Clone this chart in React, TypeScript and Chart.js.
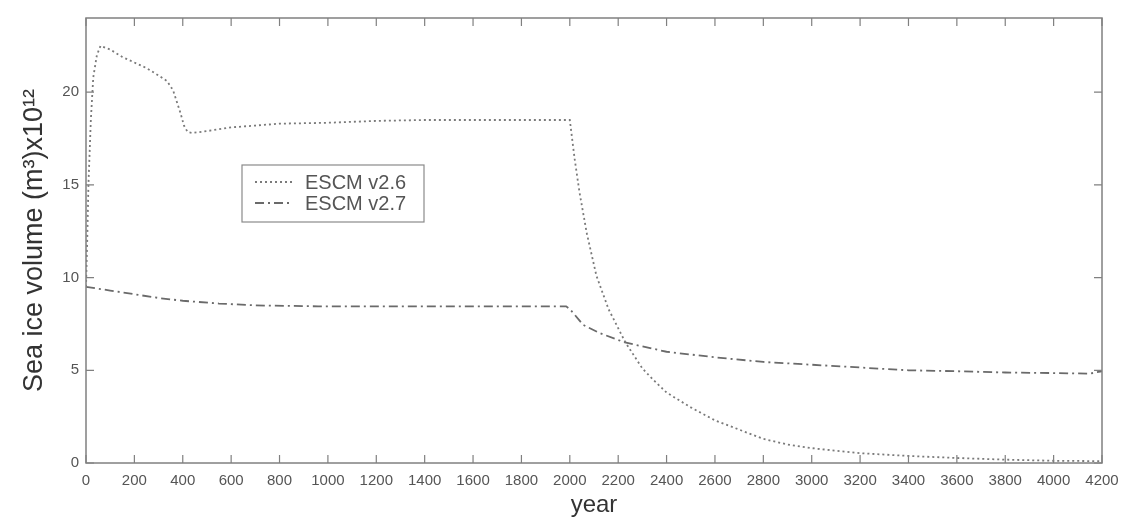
import React, { useEffect, useRef } from "react";
import { Chart, registerables } from "chart.js";

Chart.register(...registerables);

const v26Years = [0, 5, 10, 20, 30, 45, 60, 100, 150, 200, 250, 300, 335, 360, 375, 390, 405, 420, 440, 500, 600, 700, 800, 1000, 1200, 1400, 1600, 1800, 2000, 2020, 2040, 2070, 2110, 2160, 2230, 2300, 2344, 2400, 2500, 2600, 2700, 2800, 2900, 3000, 3200, 3400, 3600, 3800, 4000, 4200];
const v26Values = [9.5, 12, 15, 18.5, 20.8, 22.0, 22.5, 22.3, 21.9, 21.6, 21.3, 20.9, 20.6, 20.1, 19.5, 18.9, 18.2, 17.85, 17.8, 17.9, 18.1, 18.2, 18.3, 18.35, 18.45, 18.5, 18.5, 18.5, 18.5, 16.4, 14.6, 12.4, 10.1, 8.3, 6.5, 5.1, 4.5, 3.8, 3.0, 2.3, 1.8, 1.3, 1.0, 0.8, 0.53, 0.38, 0.27, 0.18, 0.12, 0.1];

const v27Years = [0, 100, 200, 300, 400, 550, 700, 960, 1200, 1400, 1600, 1800, 1985, 2000, 2020, 2055, 2125, 2228, 2400, 2600, 2800, 3000, 3200, 3400, 3600, 3800, 4000, 4150, 4200];
const v27Values = [9.5, 9.3, 9.1, 8.9, 8.75, 8.6, 8.5, 8.45, 8.45, 8.45, 8.45, 8.45, 8.45, 8.3, 8.0, 7.45, 7.0, 6.5, 6.0, 5.7, 5.45, 5.3, 5.15, 5.0, 4.95, 4.88, 4.85, 4.82, 4.95];

const seriesNames = ["ESCM v2.6", "ESCM v2.7"];
const xTickStep = 200;
const yTickStep = 5;
const xMax = 4200;
const yMax = 24;

const dotDash = [2, 3];
const dashDotDash = [9, 4, 2, 4];
const lineColor26 = "#7a7a7a";
const lineColor27 = "#6a6a6a";
const fontFamily = "'Liberation Sans', Arial, sans-serif";

const boxPlugin = {
  id: "matlabBox",
  afterDraw(chart: any) {
    const { ctx, chartArea, scales } = chart;
    const { left, right, top, bottom } = chartArea;
    ctx.save();
    ctx.strokeStyle = "#808080";
    ctx.lineWidth = 1.5;
    ctx.setLineDash([]);
    ctx.strokeRect(left, top, right - left, bottom - top);
    const tl = 8;
    ctx.lineWidth = 1.2;
    ctx.beginPath();
    scales.x.ticks.forEach((t: any) => {
      const px = scales.x.getPixelForValue(t.value);
      ctx.moveTo(px, bottom);
      ctx.lineTo(px, bottom - tl);
      ctx.moveTo(px, top);
      ctx.lineTo(px, top + tl);
    });
    scales.y.ticks.forEach((t: any) => {
      const py = scales.y.getPixelForValue(t.value);
      ctx.moveTo(left, py);
      ctx.lineTo(left + tl, py);
      ctx.moveTo(right, py);
      ctx.lineTo(right - tl, py);
    });
    ctx.stroke();

    // legend
    const lx = 242, ly = 165, lw = 182, lh = 57;
    ctx.fillStyle = "#ffffff";
    ctx.fillRect(lx, ly, lw, lh);
    ctx.strokeStyle = "#8a8a8a";
    ctx.lineWidth = 1.2;
    ctx.strokeRect(lx, ly, lw, lh);
    const rows = [
      { name: seriesNames[0], dash: dotDash, color: lineColor26, y: ly + 17 },
      { name: seriesNames[1], dash: dashDotDash, color: lineColor27, y: ly + 38 },
    ];
    ctx.font = `20px ${fontFamily}`;
    ctx.textBaseline = "middle";
    ctx.textAlign = "left";
    rows.forEach((r) => {
      ctx.strokeStyle = r.color;
      ctx.lineWidth = 1.8;
      ctx.setLineDash(r.dash);
      ctx.beginPath();
      ctx.moveTo(lx + 13, r.y);
      ctx.lineTo(lx + 50, r.y);
      ctx.stroke();
      ctx.setLineDash([]);
      ctx.fillStyle = "#555555";
      ctx.fillText(r.name, lx + 63, r.y + 1);
    });
    ctx.restore();
  },
};

export default function App() {
  const ref = useRef<HTMLCanvasElement>(null);
  useEffect(() => {
    if (!ref.current) return;
    const chart = new Chart(ref.current, {
      type: "scatter",
      data: {
        datasets: [
          {
            label: seriesNames[0],
            data: v26Years.map((x, i) => ({ x, y: v26Values[i] })),
            showLine: true,
            borderColor: lineColor26,
            borderWidth: 1.8,
            borderDash: dotDash,
            pointRadius: 0,
            tension: 0,
          },
          {
            label: seriesNames[1],
            data: v27Years.map((x, i) => ({ x, y: v27Values[i] })),
            showLine: true,
            borderColor: lineColor27,
            borderWidth: 1.8,
            borderDash: dashDotDash,
            pointRadius: 0,
            tension: 0,
          },
        ],
      },
      options: {
        responsive: false,
        animation: false,
        layout: { padding: { top: 18, right: 21, left: 0, bottom: 0 } },
        plugins: { legend: { display: false }, tooltip: { enabled: false } },
        scales: {
          x: {
            type: "linear",
            min: 0,
            max: xMax,
            grid: { display: false, drawTicks: false },
            border: { display: false },
            ticks: {
              stepSize: xTickStep,
              autoSkip: false,
              maxRotation: 0,
              padding: 9,
              color: "#555",
              callback: (v: any) => String(v),
              font: { size: 15, family: fontFamily },
            },
            title: {
              display: true,
              text: "year",
              color: "#333",
              padding: { top: 0, bottom: 6 },
              font: { size: 24, family: fontFamily },
            },
            afterFit: (s: any) => {
              s.height = 63;
              s.paddingLeft = 0;
              s.paddingRight = 0;
            },
          },
          y: {
            type: "linear",
            min: 0,
            max: yMax,
            grid: { display: false, drawTicks: false },
            border: { display: false },
            ticks: {
              stepSize: yTickStep,
              includeBounds: false,
              padding: 7,
              color: "#555",
              callback: (v: any) => String(v),
              font: { size: 15, family: fontFamily },
            },
            title: {
              display: true,
              text: "Sea ice volume (m³)x10¹²",
              color: "#333",
              padding: { top: 18, bottom: 0 },
              font: { size: 27, family: fontFamily },
            },
            afterFit: (s: any) => {
              s.width = 86;
              s.paddingTop = 0;
              s.paddingBottom = 0;
            },
          },
        },
      },
      plugins: [boxPlugin],
    });
    return () => chart.destroy();
  }, []);
  return (
    <div style={{ position: "fixed", left: 0, top: 0, width: 1123, height: 526, background: "#fff" }}>
      <canvas ref={ref} width={1123} height={526} style={{ display: "block" }} />
    </div>
  );
}
